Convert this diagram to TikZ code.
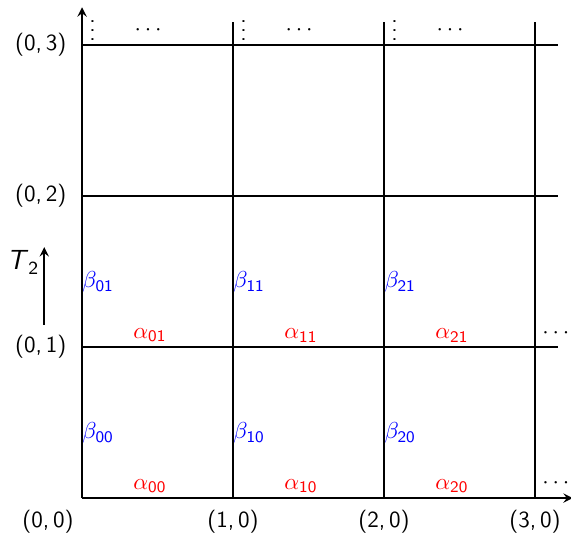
\documentclass[tikz,border=0pt]{standalone}
\usepackage{amsmath}
\usepackage{xcolor}
\usepackage{tikz}
\usetikzlibrary{arrows,positioning,calc}
\renewcommand{\familydefault}{\sfdefault}

\begin{document}
\begin{tikzpicture}[>=stealth, x=2.3cm, y=2.3cm]
        \tikzset{
            gridline/.style={line width=0.8pt},
            axis/.style={->, line width=0.8pt},
            alab/.style={text=red, anchor=south, inner sep=0pt},
            blab/.style={text=blue, anchor=west, inner sep=0pt},
            coordlab/.style={inner sep=0pt},
            dotlab/.style={inner sep=0pt}
        }
        \useasboundingbox (-0.543,-0.265) rectangle (3.238,3.298);
        
        % Axes
        \coordinate (o) at (0,0);
        \coordinate (xend) at (3.25,0);
        \coordinate (yend) at (0,3.25);
        \draw [axis] (o) -- (xend);
        \draw [axis] (o) -- (yend);
        
        % Grid
        \foreach \k in {1,2,3} {
            \coordinate (v\k) at (\k,0);
            \coordinate (vt\k) at (\k,3.15);
            \coordinate (h\k) at (0,\k);
            \coordinate (ht\k) at (3.15,\k);
            \draw [gridline] (v\k) -- (vt\k);
            \draw [gridline] (h\k) -- (ht\k);
        }
        
        % Coordinates of the vertices
        \node [coordlab, anchor=north] (l00) at (-0.225,-0.08) {(0,\,0)};
        \foreach \k in {1,2,3} {
            \node [coordlab, anchor=north] (l\k0) at (\k,-0.08) {(\k,\,0)};
            \node [coordlab, anchor=east] (l0\k) at (-0.1,\k) {(0,\,\k)};
        }
        
        % Edge labels
        \foreach \i in {0,1,2} {
            \foreach \j in {0,1} {
                \node [alab] (a\i\j) at (\i+0.45,\j+0.03) {$\alpha_{\textsf{\i\j}}$};
                \node [blab] (b\i\j) at (\i,\j+0.43) {$\beta_{\textsf{\i\j}}$};
            }
            \node [dotlab] (vd\i) at (\i+0.07,3.14) {$\vdots$};
            \node [dotlab] (hd\i) at (\i+0.45,3.10) {$\cdots$};
        }
        \node [dotlab] (rd1) at (3.15,1.09) {$\cdots$};
        \node [dotlab] (rd0) at (3.15,0.1) {$\cdots$};
        
        % Direction T_2
        \coordinate (t0) at (-0.25,1.146);
        \coordinate (t1) at (-0.25,1.662);
        \draw [->, line width=0.8pt] (t0) -- (t1);
        \node [font=\large, inner sep=0pt] (t2) at (-0.39,1.56) {\textit{T}$_{\textsf{2}}$};
    \end{tikzpicture}
\end{document}
